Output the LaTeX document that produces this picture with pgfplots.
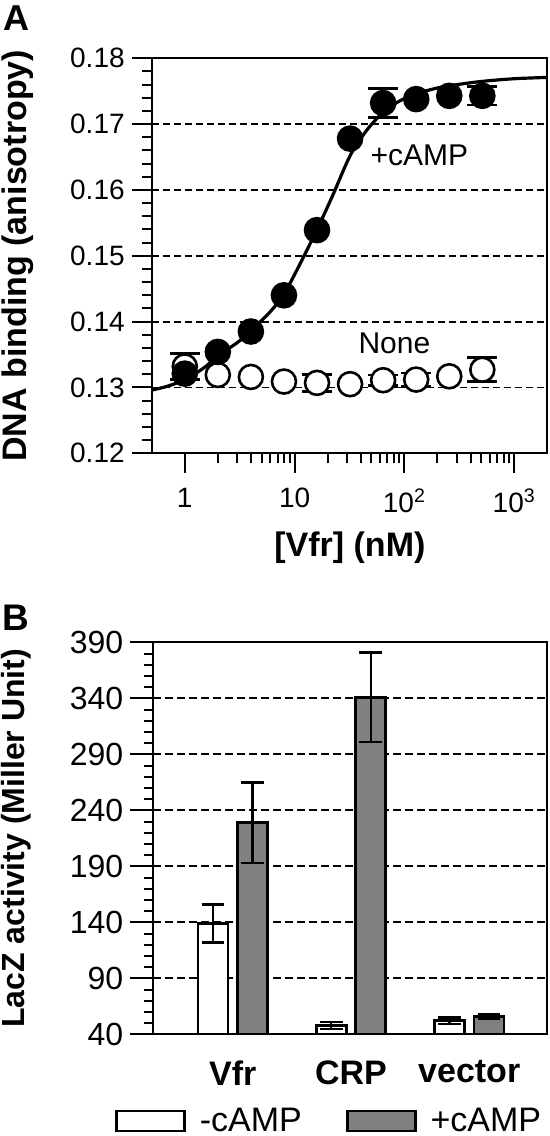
\documentclass[border=0pt]{standalone}
\usepackage{fontspec}
\setmainfont{Liberation Sans}
\usepackage{pgfplots}
\usepackage{pgfplotstable}
\pgfplotsset{compat=1.18}
\pgfplotsset{rectlegend/.style={legend image code/.code={\draw[##1] (0pt,-5pt) rectangle (34pt,5pt);}}}

\pgfplotstableread{
x y e
1 0.1332 0.0020
16 0.1307 0.0013
64 0.1311 0.0008
128 0.1312 0.0010
512 0.1327 0.0018
}\openerr
\pgfplotstableread{
x y
2 0.1319
4 0.1316
8 0.1309
32 0.1305
256 0.1317
}\opennoerr
\pgfplotstableread{
x y e
64 0.1732 0.0022
512 0.1743 0.0014
}\fillerr
\pgfplotstableread{
x y
1 0.1321
2 0.1354
4 0.1385
8 0.1440
16 0.1539
32 0.1678
128 0.1738
256 0.1743
}\fillnoerr
\pgfplotstableread{
x y
0.5 0.1296
0.7 0.1302
1 0.1312
1.5 0.1330
2 0.1348
3 0.1368
4 0.1386
6 0.1415
8 0.1442
11 0.1485
16 0.1540
22 0.1590
32 0.1652
45 0.1690
64 0.1718
90 0.1735
128 0.1746
200 0.1755
300 0.1760
512 0.1765
1000 0.1769
2000 0.1771
}\fitcurve
% x = category index (Vfr 0, CRP 1, vector 2) minus/plus half a bar spacing
\pgfplotstableread{
x y e
-0.1675 139 17
0.8325 48 3
1.8325 52 3
}\minuscamp
\pgfplotstableread{
x y e
0.1675 229 36
1.1675 341 40
2.1675 56 2
}\pluscamp

\begin{document}
\begin{tikzpicture}
\path[use as bounding box] (0pt,0pt) rectangle (275pt,-568pt);

\node[font=\bfseries\fontsize{18}{18}\selectfont] at (8.35pt,-9.25pt) {A};
\node[font=\bfseries\fontsize{18.5}{18.5}\selectfont] at (7.9pt,-308.7pt) {B};

\begin{axis}[
  at={(75.85pt,-226.65pt)}, anchor=south west,
  scale only axis, width=197.8pt, height=197.5pt,
  xmode=log, xmin=0.5, xmax=2000, ymin=0.12, ymax=0.18,
  xtick={1,10,100,1000},
  xticklabels={1,10,10\textsuperscript{2},10\textsuperscript{3}},
  ytick={0.12,0.13,0.14,0.15,0.16,0.17,0.18},
  yticklabels={0.12,0.13,0.14,0.15,0.16,0.17,0.18},
  minor y tick num=4,
  tick align=outside, tick pos=left,
  major tick length=10pt, minor tick length=5pt,
  tick style={black, line width=1pt},
  axis line style={line width=1pt},
  ymajorgrids,
  grid style={black, line width=0.9pt, dash pattern=on 3.5pt off 2pt},
  tick label style={font=\fontsize{14}{14}\selectfont},
  xticklabel style={yshift=-4pt},
  xlabel={[Vfr] (nM)},
  ylabel={DNA binding (anisotropy)},
  label style={font=\bfseries\fontsize{17}{17}\selectfont},
  xlabel style={at={(axis description cs:0.501,-0.24)}, anchor=center},
  ylabel style={at={(axis description cs:-0.338,0.5)}, anchor=center},
  clip=false,
]
\addplot[black, line width=1.6pt, smooth, no marks] table[x=x,y=y] {\fitcurve};
\addplot[only marks, mark=*, mark size=6pt,
  mark options={fill=white, draw=black, line width=1.3pt},
  error bars/.cd, y dir=both, y explicit,
  error bar style={black, line width=1.4pt},
  error mark options={rotate=90, mark size=7.5pt, line width=1.4pt, black}]
  table[x=x,y=y,y error=e] {\openerr};
\addplot[only marks, mark=*, mark size=6pt,
  mark options={fill=white, draw=black, line width=1.3pt}]
  table[x=x,y=y] {\opennoerr};
\addplot[only marks, mark=*, mark size=6pt,
  mark options={fill=black, draw=black, line width=1.3pt},
  error bars/.cd, y dir=both, y explicit,
  error bar style={black, line width=1.4pt},
  error mark options={rotate=90, mark size=7.5pt, line width=1.4pt, black}]
  table[x=x,y=y,y error=e] {\fillerr};
\addplot[only marks, mark=*, mark size=6pt,
  mark options={fill=black, draw=black, line width=1.3pt}]
  table[x=x,y=y] {\fillnoerr};
\node[font=\fontsize{15}{15}\selectfont] at (axis cs:137,0.1653) {+cAMP};
\node[font=\fontsize{15}{15}\selectfont] at (axis cs:81,0.1367) {None};
\end{axis}

\begin{axis}[
  at={(76.65pt,-517.15pt)}, anchor=south west,
  scale only axis, width=196.85pt, height=196pt,
  xmin=-0.673, xmax=2.658, ymin=40, ymax=390,
  xtick={0,1,2}, xticklabels={Vfr,CRP,vector},
  x tick style={draw=none},
  ytick={40,90,140,190,240,290,340,390},
  minor y tick num=4,
  /pgf/number format/assume math mode=true,
  tick align=outside, tick pos=left,
  major tick length=11.5pt, minor tick length=4.5pt,
  tick style={black, line width=1pt},
  axis line style={line width=1pt},
  ymajorgrids,
  grid style={black, line width=0.9pt, dash pattern=on 4pt off 2pt},
  yticklabel style={font=\fontsize{16}{16}\selectfont},
  xticklabel style={font=\bfseries\fontsize{17}{17}\selectfont, yshift=2pt},
  ylabel={LacZ activity (Miller Unit)},
  ylabel style={font=\bfseries\fontsize{16}{16}\selectfont,
    at={(axis description cs:-0.347,0.5)}, anchor=center},
  legend style={at={(axis description cs:0.449,-0.221)}, anchor=center,
    draw=none, fill=none, legend columns=2,
    font=\fontsize{17}{17}\selectfont,
    nodes={inner ysep=1pt},
    /tikz/every odd column/.append style={column sep=5pt},
    /tikz/every even column/.append style={column sep=20pt}},
]
\addplot[ybar, bar width=15pt, bar shift=0pt, fill=white, draw=black, line width=1.4pt,
  rectlegend,
  error bars/.cd, y dir=both, y explicit,
  error bar style={black, line width=1.2pt},
  error mark options={rotate=90, mark size=5.7pt, line width=1.2pt, black}]
  table[x=x,y=y,y error=e] {\minuscamp};
\addlegendentry{-cAMP}
\addplot[ybar, bar width=15pt, bar shift=0pt, fill=gray, draw=black, line width=1.4pt,
  rectlegend,
  error bars/.cd, y dir=both, y explicit,
  error bar style={black, line width=1.2pt},
  error mark options={rotate=90, mark size=5.7pt, line width=1.2pt, black}]
  table[x=x,y=y,y error=e] {\pluscamp};
\addlegendentry{+cAMP}
\end{axis}
\end{tikzpicture}
\end{document}
